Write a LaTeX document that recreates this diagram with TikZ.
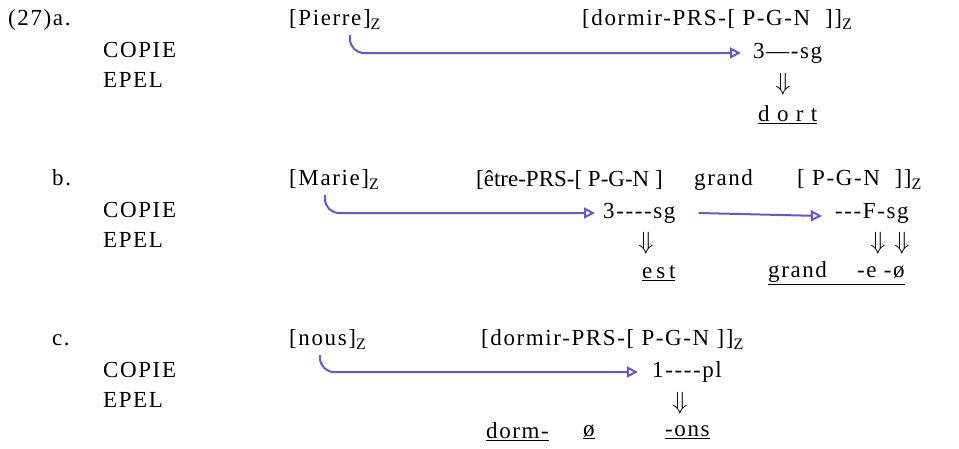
\documentclass[tikz,border=0pt]{standalone}
\usepackage{fontspec}
\setmainfont{Liberation Serif}[LetterSpace=7]
\usetikzlibrary{arrows.meta}
\definecolor{pen}{RGB}{104,86,218}
\newcommand{\zsub}{\raisebox{-4pt}{\fontsize{16}{16}\selectfont Z}}
\newcommand{\tight}{\addfontfeature{LetterSpace=0}}
\begin{document}
\begin{tikzpicture}[x=1pt,y=-1pt,
  every node/.style={inner sep=0pt, anchor=west, font=\fontsize{23}{27}\selectfont},
  dn/.style={anchor=center},
  arr/.style={draw=pen, line width=2pt, rounded corners=14pt,
    -{Triangle[open,length=11pt,width=11pt,line width=2pt]}}]
\useasboundingbox (0,0) rectangle (959,448);
% row a
\node (exa) at (8,20) {(27)a.};
\node (copa) at (103,50) {COPIE};
\node (epela) at (103,80) {EPEL};
\node (pierre) at (289,20) {[Pierre]\zsub};
\node (dorma) at (582,20) {[dormir-PRS-[ P-G-N\ \ ]]\zsub};
\node (sga) at (753,53) {3---{}-sg};
\node[dn] (dna) at (783,84) {$\Downarrow$};
\node (dort) at (758,115) {\underline{d o r t}};
\draw[arr] ([xshift=61pt,yshift=-5pt]pierre.south west) |- ([xshift=-12pt]sga.west);
% row b
\node (exb) at (52,178) {b.};
\node (copb) at (103,210) {COPIE};
\node (epelb) at (103,240) {EPEL};
\node (marie) at (289,180) {[Marie]\zsub};
\node (etre) at (476,180) {\tight[être-PRS-[ P-G-N\ ]};
\node (grand) at (694,180) {grand};
\node (pgn) at (797,180) {[ P-G-N\ \ ]]\zsub};
\node (sgb) at (603,213) {3{-}{-}{-}{-}sg};
\node[dn] (dnb) at (646,243) {$\Downarrow$};
\node[anchor=east] (est) at (sgb.east |- 0,273) {\underline{e\,s\,t}};
\node (fsg) at (835,213) {{-}{-}{-}F-sg};
\node[dn] (dnb1) at (878,243) {$\Downarrow$};
\node[dn] (dnb2) at (902,243) {$\Downarrow$};
\node (grande) at (768,273) {\underline{grand\hspace{30pt}-e -ø}};
\draw[arr] ([xshift=36pt,yshift=-5pt]marie.south west) |- ([xshift=-8pt]sgb.west);
\draw[arr] ([xshift=23pt]sgb.east) -- ([xshift=-13pt,yshift=-3pt]fsg.west);
% row c
\node (exc) at (52,340) {c.};
\node (copc) at (103,370) {COPIE};
\node (epelc) at (103,400) {EPEL};
\node (nous) at (289,340) {[nous]\zsub};
\node (dormc) at (481,340) {[dormir-PRS-[ P-G-N ]]\zsub};
\node (plc) at (652,372) {1{-}{-}{-}{-}pl};
\node[dn] (dnc) at (680,403) {$\Downarrow$};
\node (dormm) at (486,432) {\underline{dorm-}};
\node (osl) at (583,432) {\underline{ø}};
\node (ons) at (665,432) {\underline{-ons}};
\draw[arr] ([xshift=31pt,yshift=-5pt]nous.south west) |- ([xshift=-14pt]plc.west);
\end{tikzpicture}
\end{document}
